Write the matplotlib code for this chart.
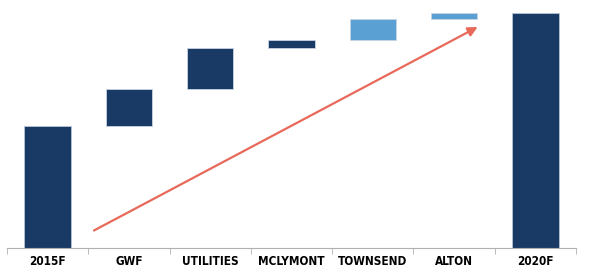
import numpy as np
import matplotlib.pyplot as plt

# waterfall data (arbitrary units)
categories = ['2015F', 'GWF', 'UTILITIES', 'MCLYMONT', 'TOWNSEND', 'ALTON', '2020F']
start_value = 122.5
changes = [36.5, 41.0, 8.5, 20.5, 6.0]
change_colors = ['#1a3a66', '#1a3a66', '#1a3a66', '#5aa0d2', '#5aa0d2']
end_value = start_value + sum(changes)

dark = '#1a3a66'

fig = plt.figure(figsize=(5.98, 2.76), dpi=100)
ax = fig.add_axes([7 / 598, 28 / 276, 569 / 598, 248 / 276])

x = np.arange(len(categories))
w = 0.57

# totals
ax.bar(x[0], start_value, width=w, color=dark, edgecolor='#b8c4d4', linewidth=0.6)
ax.bar(x[-1], end_value, width=w, color=dark, edgecolor='#b8c4d4', linewidth=0.6)

# floating steps
bottoms = start_value + np.concatenate([[0], np.cumsum(changes)[:-1]])
for i, (b, h, c) in enumerate(zip(bottoms, changes, change_colors)):
    ax.bar(x[i + 1], h, bottom=b, width=w, color=c, edgecolor='#c8d4e2', linewidth=0.6)

# trend arrow
ax.annotate('', xy=(5.29, 221), xytext=(0.57, 17.5),
            arrowprops=dict(arrowstyle='-|>', color='#e8695a', lw=1.6,
                            mutation_scale=14, shrinkA=0, shrinkB=0))

ax.set_xlim(-0.5, len(categories) - 0.5)
ax.set_ylim(0, 248)
ax.set_yticks([])
ax.set_xticks(x)
ax.set_xticklabels(categories, fontsize=8.5, fontweight='bold',
                   family='DejaVu Sans', fontstretch='condensed')
ax.set_xticks(np.arange(-0.5, len(categories)), minor=True)
ax.tick_params(axis='x', which='major', length=0, pad=5)
ax.tick_params(axis='x', which='minor', length=4, color='#b0b0b0', direction='out')

for s in ['top', 'right', 'left']:
    ax.spines[s].set_visible(False)
ax.spines['bottom'].set_color('#b0b0b0')

fig.savefig('out.png', dpi=100)
